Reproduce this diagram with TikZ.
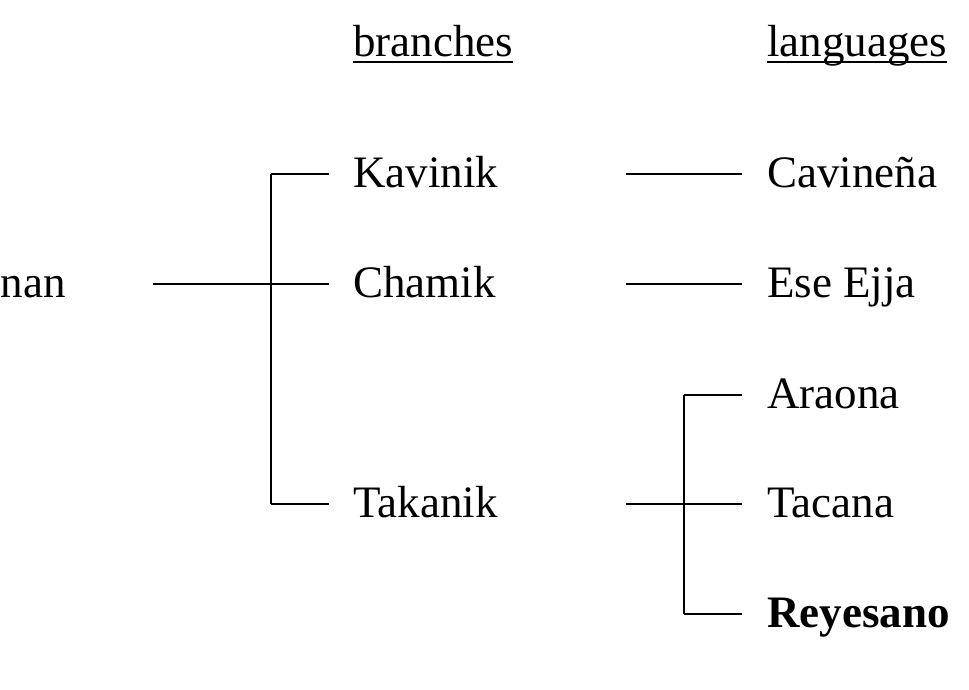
\documentclass[tikz,border=0pt]{standalone}
\usepackage{fontspec}
\setmainfont{Liberation Serif}
\begin{document}
\begin{tikzpicture}[x=1pt,y=-1pt,
  lbl/.style={inner sep=0pt, anchor=base west, font=\fontsize{45}{54}\selectfont},
  conn/.style={line width=2pt, line cap=butt}]
\useasboundingbox (0,0) rectangle (969,690);
% headers
\node[lbl] (hb) at (353,57) {branches};
\node[lbl] (hl) at (767,57) {languages};
\draw[line width=2pt] ([yshift=-5]hb.base west) -- ([yshift=-5]hb.base east);
\draw[line width=2pt] ([yshift=-5]hl.base west) -- ([yshift=-5]hl.base east);
% nodes
\node[lbl] (root) at (0.5,297) {nan};
\node[lbl] (kav) at (353,187) {Kavinik};
\node[lbl] (cha) at (353,297) {Chamik};
\node[lbl] (tak) at (353,517) {Takanik};
\node[lbl] (cav) at (767,187) {Cavineña};
\node[lbl] (ese) at (767,297) {Ese Ejja};
\node[lbl] (ara) at (767,408) {Araona};
\node[lbl] (tac) at (767,517) {Tacana};
\node[lbl, font=\fontsize{45}{54}\selectfont\bfseries] (rey) at (767,627) {Reyesano};
% connector end points
\coordinate (r0) at (153,284);
\coordinate (j1t) at (271,174);
\coordinate (j1b) at (271,504);
\coordinate (kin) at (329,174);
\coordinate (cin) at (329,284);
\coordinate (tin) at (329,504);
\coordinate (kout) at (626,174);
\coordinate (cout) at (626,284);
\coordinate (tout) at (626,504);
\coordinate (cavin) at (742,174);
\coordinate (esein) at (742,284);
\coordinate (arain) at (742,395);
\coordinate (tacin) at (742,504);
\coordinate (reyin) at (742,614);
\coordinate (j2t) at (684,395);
\coordinate (j2b) at (684,614);
% first level
\draw[conn] (r0) -- (cin);
\draw[conn] (j1t) -- (j1b);
\draw[conn] (j1t) -- (kin);
\draw[conn] (j1b) -- (tin);
% second level
\draw[conn] (kout) -- (cavin);
\draw[conn] (cout) -- (esein);
\draw[conn] (tout) -- (tacin);
\draw[conn] (j2t) -- (j2b);
\draw[conn] (j2t) -- (arain);
\draw[conn] (j2b) -- (reyin);
\end{tikzpicture}
\end{document}
